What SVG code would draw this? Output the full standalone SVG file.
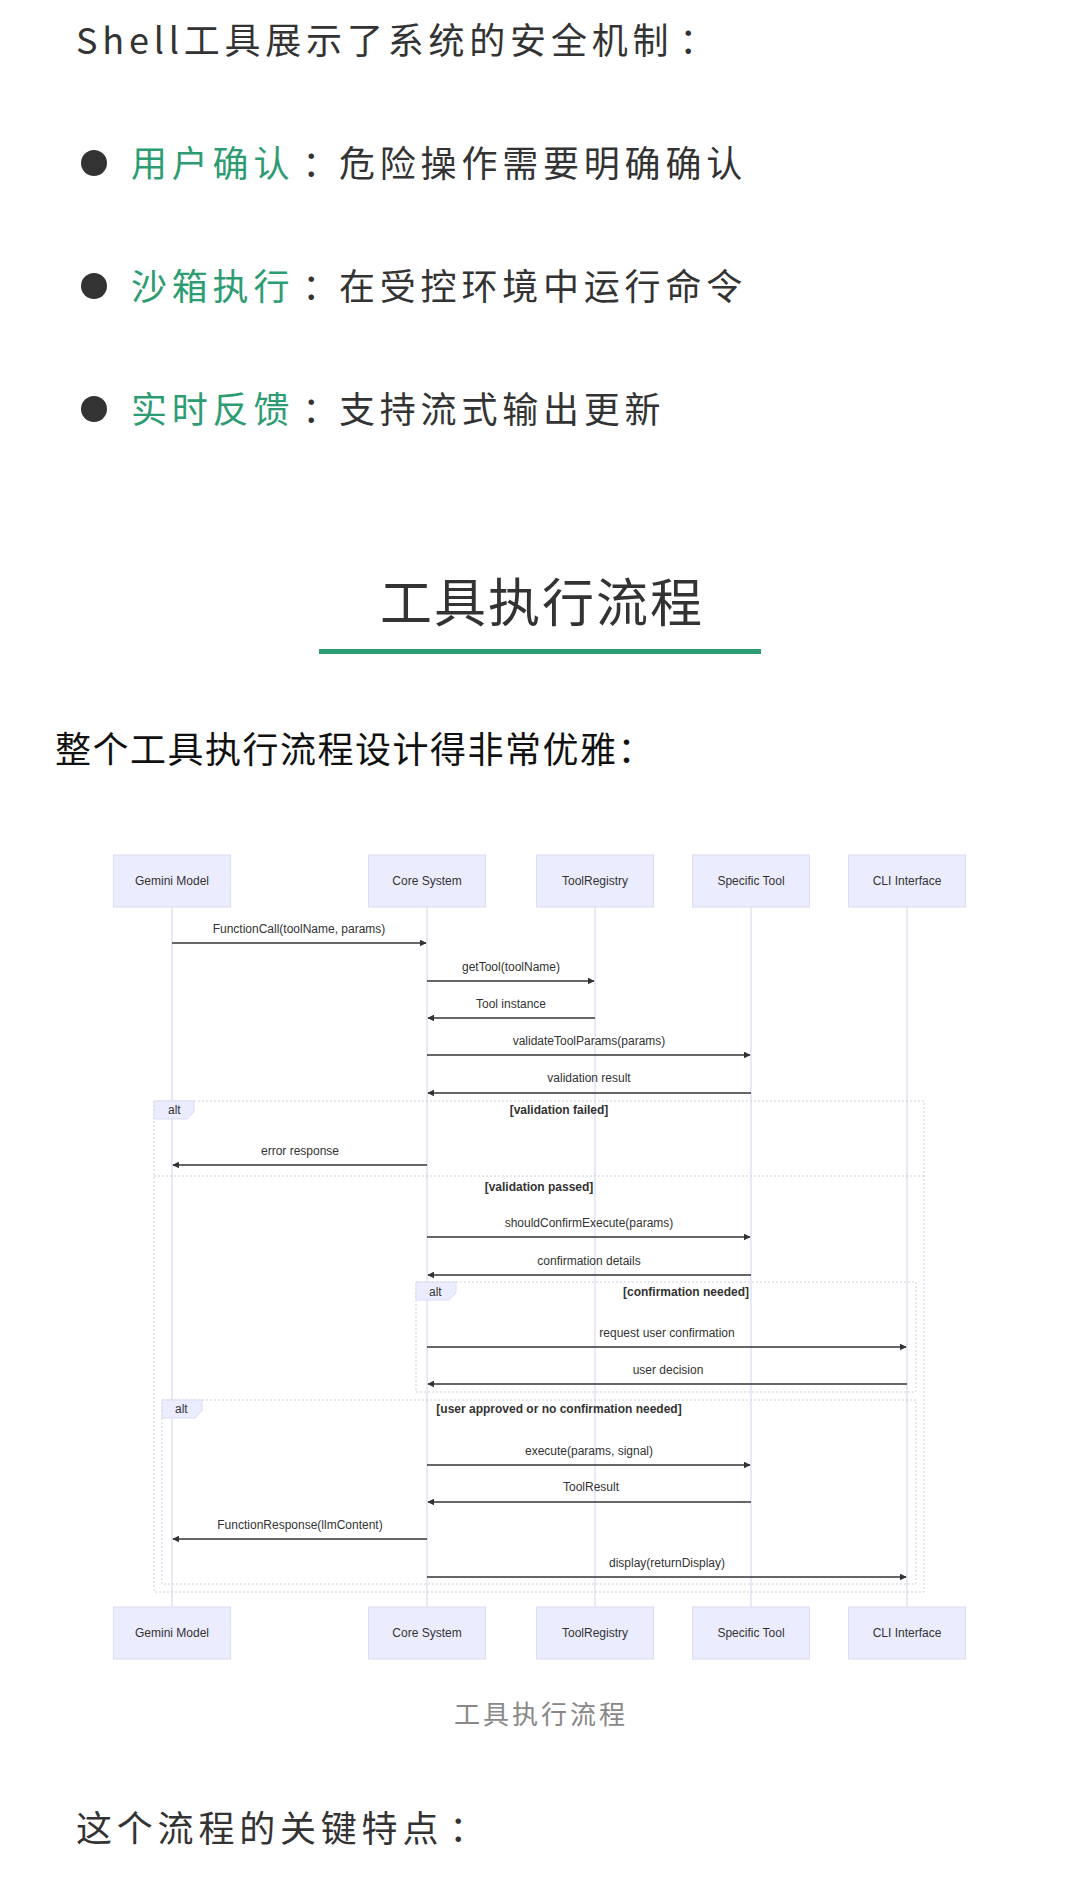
<svg xmlns="http://www.w3.org/2000/svg" width="1080" height="1879" viewBox="0 0 1080 1879">
<style>
.body{font-family:"Noto Sans CJK SC","Noto Sans",sans-serif;font-size:36px;fill:#333;letter-spacing:4.8px}
.g{fill:#2e9c73}
.actor rect{fill:#ececff;stroke:#dcdcf2;stroke-width:1}
.actor text,.lbl{font-family:"Liberation Sans","DejaVu Sans",sans-serif;font-size:12px;fill:#333;text-anchor:middle}
.life{stroke:#d4d4ee;stroke-width:1}
.msg{stroke:#333;stroke-width:1.5;fill:none;marker-end:url(#ah)}
.frame{fill:none;stroke:#cfcfdf;stroke-width:1;stroke-dasharray:2 2}
.tag{fill:#ececff;stroke:#dcdcf2}
.cond{font-family:"Liberation Sans",sans-serif;font-size:12px;font-weight:bold;fill:#333;text-anchor:middle}
</style>
<defs>
<marker id="ah" viewBox="0 0 10 10" refX="9" refY="5" markerWidth="7" markerHeight="7" orient="auto" markerUnits="userSpaceOnUse"><path d="M0,0 L10,5 L0,10 z" fill="#333"/></marker>
</defs>
<rect width="1080" height="1879" fill="#fff"/>

<text class="body" x="76" y="54">Shell工具展示了系统的安全机制<tspan dx="6">：</tspan></text>
<circle cx="94" cy="163" r="13" fill="#333"/>
<text class="body" x="131" y="177"><tspan class="g">用户确认</tspan><tspan dx="8">：</tspan><tspan dx="-4">危险操作需要明确确认</tspan></text>
<circle cx="94" cy="286" r="13" fill="#333"/>
<text class="body" x="131" y="300"><tspan class="g">沙箱执行</tspan><tspan dx="8">：</tspan><tspan dx="-4">在受控环境中运行命令</tspan></text>
<circle cx="94" cy="409" r="13" fill="#333"/>
<text class="body" x="131" y="423"><tspan class="g">实时反馈</tspan><tspan dx="8">：</tspan><tspan dx="-4">支持流式输出更新</tspan></text>

<text x="542" y="622" text-anchor="middle" style="font-family:'Noto Sans CJK SC',sans-serif;font-size:52px;fill:#333;letter-spacing:2px">工具执行流程</text>
<rect x="319" y="649" width="442" height="5" fill="#2e9c73"/>
<text x="55" y="763" style="font-family:'Noto Sans CJK SC',sans-serif;font-size:36px;fill:#111;letter-spacing:1.5px">整个工具执行流程设计得非常优雅：</text>

<g id="lifelines">
<line class="life" x1="172" y1="907" x2="172" y2="1607"/>
<line class="life" x1="427" y1="907" x2="427" y2="1607"/>
<line class="life" x1="595" y1="907" x2="595" y2="1607"/>
<line class="life" x1="751" y1="907" x2="751" y2="1607"/>
<line class="life" x1="907" y1="907" x2="907" y2="1607"/>
</g>

<g id="gemini-top" class="actor"><rect x="113.5" y="855" width="117" height="52"/><text x="172" y="885">Gemini Model</text></g>
<g id="core-top" class="actor"><rect x="368.5" y="855" width="117" height="52"/><text x="427" y="885">Core System</text></g>
<g id="registry-top" class="actor"><rect x="536.5" y="855" width="117" height="52"/><text x="595" y="885">ToolRegistry</text></g>
<g id="tool-top" class="actor"><rect x="692.5" y="855" width="117" height="52"/><text x="751" y="885">Specific Tool</text></g>
<g id="cli-top" class="actor"><rect x="848.5" y="855" width="117" height="52"/><text x="907" y="885">CLI Interface</text></g>

<g id="gemini-bottom" class="actor"><rect x="113.5" y="1607" width="117" height="52"/><text x="172" y="1637">Gemini Model</text></g>
<g id="core-bottom" class="actor"><rect x="368.5" y="1607" width="117" height="52"/><text x="427" y="1637">Core System</text></g>
<g id="registry-bottom" class="actor"><rect x="536.5" y="1607" width="117" height="52"/><text x="595" y="1637">ToolRegistry</text></g>
<g id="tool-bottom" class="actor"><rect x="692.5" y="1607" width="117" height="52"/><text x="751" y="1637">Specific Tool</text></g>
<g id="cli-bottom" class="actor"><rect x="848.5" y="1607" width="117" height="52"/><text x="907" y="1637">CLI Interface</text></g>

<g id="frames">
<rect class="frame" x="154" y="1101" width="770" height="491"/>
<line class="frame" x1="154" y1="1176" x2="924" y2="1176"/>
<path class="tag" d="M154,1101 H194 V1112 L187,1119 H154 Z"/>
<text class="cond" x="168" y="1114" style="text-anchor:start;font-weight:normal">alt</text>
<text class="cond" x="559" y="1114">[validation failed]</text>
<text class="cond" x="539" y="1191">[validation passed]</text>

<rect class="frame" x="416" y="1282" width="500" height="110"/>
<path class="tag" d="M416,1282 H456 V1293 L449,1300 H416 Z"/>
<text class="cond" x="429" y="1296" style="text-anchor:start;font-weight:normal">alt</text>
<text class="cond" x="686" y="1296">[confirmation needed]</text>

<rect class="frame" x="162" y="1400" width="754" height="184"/>
<path class="tag" d="M162,1400 H202 V1411 L195,1418 H162 Z"/>
<text class="cond" x="175" y="1413" style="text-anchor:start;font-weight:normal">alt</text>
<text class="cond" x="559" y="1413">[user approved or no confirmation needed]</text>
</g>

<g id="connectors">
<line class="msg" x1="172" y1="943" x2="426" y2="943"/><text class="lbl" x="299" y="933">FunctionCall(toolName, params)</text>
<line class="msg" x1="427" y1="981" x2="594" y2="981"/><text class="lbl" x="511" y="971">getTool(toolName)</text>
<line class="msg" x1="595" y1="1018" x2="428" y2="1018"/><text class="lbl" x="511" y="1008">Tool instance</text>
<line class="msg" x1="427" y1="1055" x2="750" y2="1055"/><text class="lbl" x="589" y="1045">validateToolParams(params)</text>
<line class="msg" x1="751" y1="1093" x2="428" y2="1093"/><text class="lbl" x="589" y="1082">validation result</text>
<line class="msg" x1="427" y1="1165" x2="173" y2="1165"/><text class="lbl" x="300" y="1155">error response</text>
<line class="msg" x1="427" y1="1237" x2="750" y2="1237"/><text class="lbl" x="589" y="1227">shouldConfirmExecute(params)</text>
<line class="msg" x1="751" y1="1275" x2="428" y2="1275"/><text class="lbl" x="589" y="1265">confirmation details</text>
<line class="msg" x1="427" y1="1347" x2="906" y2="1347"/><text class="lbl" x="667" y="1337">request user confirmation</text>
<line class="msg" x1="907" y1="1384" x2="428" y2="1384"/><text class="lbl" x="668" y="1374">user decision</text>
<line class="msg" x1="427" y1="1465" x2="750" y2="1465"/><text class="lbl" x="589" y="1455">execute(params, signal)</text>
<line class="msg" x1="751" y1="1502" x2="428" y2="1502"/><text class="lbl" x="591" y="1491">ToolResult</text>
<line class="msg" x1="427" y1="1539" x2="173" y2="1539"/><text class="lbl" x="300" y="1529">FunctionResponse(llmContent)</text>
<line class="msg" x1="427" y1="1577" x2="906" y2="1577"/><text class="lbl" x="667" y="1567">display(returnDisplay)</text>
</g>

<text x="541" y="1724" text-anchor="middle" style="font-family:'Noto Sans CJK SC',sans-serif;font-size:26px;fill:#888;letter-spacing:3px">工具执行流程</text>
<text class="body" x="76" y="1842">这个流程的关键特点<tspan dx="6">：</tspan></text>
</svg>
